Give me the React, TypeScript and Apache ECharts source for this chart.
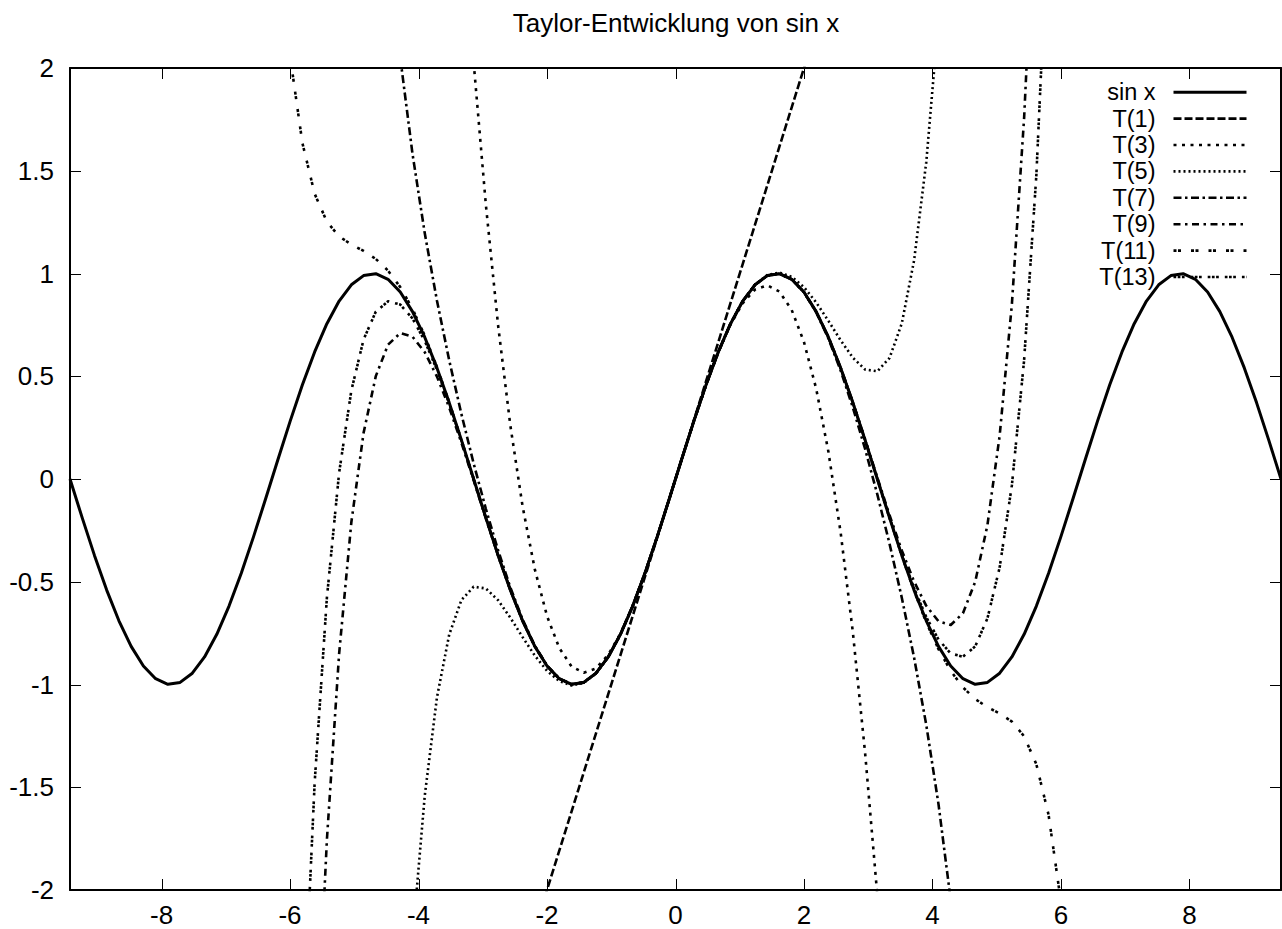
import { useEffect, useRef } from "react";
import * as echarts from "echarts";

// sample abscissae (100 samples over [-3π, 3π])
const xValues = [
  -9.4248, -9.2344, -9.044, -8.8536, -8.6632, -8.4728, -8.2824, -8.092, -7.9016, -7.7112,
  -7.5208, -7.3304, -7.14, -6.9496, -6.7592, -6.5688, -6.3784, -6.188, -5.9976, -5.8072,
  -5.6168, -5.4264, -5.236, -5.0456, -4.8552, -4.6648, -4.4744, -4.284, -4.0936, -3.9032,
  -3.7128, -3.5224, -3.332, -3.1416, -2.9512, -2.7608, -2.5704, -2.38, -2.1896, -1.9992,
  -1.8088, -1.6184, -1.428, -1.2376, -1.0472, -0.8568, -0.6664, -0.476, -0.2856, -0.0952,
  0.0952, 0.2856, 0.476, 0.6664, 0.8568, 1.0472, 1.2376, 1.428, 1.6184, 1.8088,
  1.9992, 2.1896, 2.38, 2.5704, 2.7608, 2.9512, 3.1416, 3.332, 3.5224, 3.7128,
  3.9032, 4.0936, 4.284, 4.4744, 4.6648, 4.8552, 5.0456, 5.236, 5.4264, 5.6168,
  5.8072, 5.9976, 6.188, 6.3784, 6.5688, 6.7592, 6.9496, 7.14, 7.3304, 7.5208,
  7.7112, 7.9016, 8.092, 8.2824, 8.4728, 8.6632, 8.8536, 9.044, 9.2344, 9.4248,
];

const sinValues = [
  0,
  -0.1893, -0.3717, -0.5406, -0.6901, -0.8146, -0.9096, -0.9718, -0.9989, -0.9898, -0.945, -0.866,
  -0.7557, -0.6182, -0.4582, -0.2817, -0.0951, 0.0951, 0.2817, 0.4582, 0.6182, 0.7558, 0.866,
  0.945, 0.9898, 0.9989, 0.9718, 0.9096, 0.8146, 0.6901, 0.5406, 0.3717, 0.1893,
  0,
  -0.1893, -0.3717, -0.5406, -0.6901, -0.8146, -0.9096, -0.9718, -0.9989, -0.9898, -0.945, -0.866,
  -0.7557, -0.6182, -0.4582, -0.2817, -0.0951, 0.0951, 0.2817, 0.4582, 0.6182, 0.7558, 0.866,
  0.945, 0.9898, 0.9989, 0.9718, 0.9096, 0.8146, 0.6901, 0.5406, 0.3717, 0.1893,
  0,
  -0.1893, -0.3717, -0.5406, -0.6901, -0.8146, -0.9096, -0.9718, -0.9989, -0.9898, -0.945, -0.866,
  -0.7557, -0.6182, -0.4582, -0.2817, -0.0951, 0.0951, 0.2817, 0.4582, 0.6182, 0.7558, 0.866,
  0.945, 0.9898, 0.9989, 0.9718, 0.9096, 0.8146, 0.6901, 0.5406, 0.3717, 0.1893,
  0,
];

const t1Start = 38;
const t1Values = [
  -2.1896, -1.9992, -1.8088, -1.6184, -1.428, -1.2376, -1.0472, -0.8568, -0.6664, -0.476, -0.2856, -0.0952,
  0.0952, 0.2856, 0.476, 0.6664, 0.8568, 1.0472, 1.2376, 1.428, 1.6184, 1.8088, 1.9992, 2.1896,
];

const t3Start = 33;
const t3Values = [
  2.0261, 1.3327, 0.7463, 0.26, -0.1331, -0.44, -0.6675, -0.8225, -0.9119, -0.9427, -0.9217, -0.8558,
  -0.752, -0.6171, -0.458, -0.2817, -0.0951,
  0.0951, 0.2817, 0.458, 0.6171, 0.752, 0.8558, 0.9217, 0.9427, 0.9119, 0.8225, 0.6675, 0.44, 0.1331,
  -0.26, -0.7463, -1.3327, -2.0261,
];

const t5Start = 28;
const t5Values = [
  -2.24, -1.5419, -1.062, -0.7572, -0.5891, -0.524, -0.5328, -0.5902, -0.675, -0.7695, -0.8594,
  -0.9336, -0.9838, -1.0044, -0.9922, -0.9459, -0.8663, -0.7558, -0.6182, -0.4582, -0.2817, -0.0951,
  0.0951, 0.2817, 0.4582, 0.6182, 0.7558, 0.8663, 0.9459, 0.9922, 1.0044, 0.9838, 0.9336,
  0.8594, 0.7695, 0.675, 0.5902, 0.5328, 0.524, 0.5891, 0.7572, 1.062, 1.5419, 2.24,
];

const t7Start = 27;
const t7Values = [
  2.0496, 1.5821, 1.1966, 0.8676, 0.5777, 0.3156, 0.0752, -0.146, -0.3477, -0.5279, -0.6837, -0.8115,
  -0.9083, -0.9713, -0.9987, -0.9898, -0.945, -0.866, -0.7557, -0.6182, -0.4582, -0.2817, -0.0951,
  0.0951, 0.2817, 0.4582, 0.6182, 0.7557, 0.866, 0.945, 0.9898, 0.9987, 0.9713, 0.9083, 0.8115,
  0.6837, 0.5279, 0.3477, 0.146, -0.0752, -0.3156, -0.5777, -0.8676, -1.1966, -1.5821, -2.0496,
];

const t9Start = 20;
const t9Values = [
  -3.0095, -1.7572, -0.8508, -0.2105, 0.2245, 0.5006, 0.6535, 0.7103, 0.6925, 0.6171, 0.4982, 0.3477,
  0.1761, -0.0069, -0.1928, -0.3734, -0.5414, -0.6904, -0.8147, -0.9097, -0.9718, -0.9989, -0.9898,
  -0.945, -0.866, -0.7558, -0.6182, -0.4582, -0.2817, -0.0951,
  0.0951, 0.2817, 0.4582, 0.6182, 0.7558, 0.866, 0.945, 0.9898, 0.9989, 0.9718, 0.9097, 0.8147,
  0.6904, 0.5414, 0.3734, 0.1928, 0.0069, -0.1761, -0.3477, -0.4982, -0.6171, -0.6925, -0.7103,
  -0.6535, -0.5006, -0.2245, 0.2105, 0.8508, 1.7572, 3.0095,
];

const t11Start = 18;
const t11Values = [
  2.0535, 1.6345, 1.3881, 1.252, 1.1808, 1.1412, 1.1098, 1.0708, 1.014, 0.9338, 0.828, 0.6974,
  0.5445, 0.3736, 0.1902, 0.0004, -0.1891, -0.3716, -0.5406, -0.6901, -0.8146, -0.9096, -0.9718,
  -0.9989, -0.9898, -0.945, -0.866, -0.7558, -0.6182, -0.4582, -0.2817, -0.0951,
  0.0951, 0.2817, 0.4582, 0.6182, 0.7558, 0.866, 0.945, 0.9898, 0.9989, 0.9718, 0.9096, 0.8146,
  0.6901, 0.5406, 0.3716, 0.1891, -0.0004, -0.1902, -0.3736, -0.5445, -0.6974, -0.828, -0.9338,
  -1.014, -1.0708, -1.1098, -1.1412, -1.1808, -1.252, -1.3881, -1.6345, -2.0535,
];

const t13Start = 19;
const t13Values = [
  -2.7867, -1.4783, -0.5787, 0.0301, 0.4302, 0.6786, 0.8144, 0.8649, 0.849, 0.7811, 0.6721, 0.5313,
  0.367, 0.187, -0.0011, -0.1897, -0.3719, -0.5407, -0.6901, -0.8146, -0.9096, -0.9718, -0.9989,
  -0.9898, -0.945, -0.866, -0.7558, -0.6182, -0.4582, -0.2817, -0.0951,
  0.0951, 0.2817, 0.4582, 0.6182, 0.7558, 0.866, 0.945, 0.9898, 0.9989, 0.9718, 0.9096, 0.8146,
  0.6901, 0.5407, 0.3719, 0.1897, 0.0011, -0.187, -0.367, -0.5313, -0.6721, -0.7811, -0.849,
  -0.8649, -0.8144, -0.6786, -0.4302, -0.0301, 0.5787, 1.4783, 2.7867,
];

const xTickValues = [-8, -6, -4, -2, 0, 2, 4, 6, 8];
const yTickValues = [-2, -1.5, -1, -0.5, 0, 0.5, 1, 1.5, 2];
const xMin = -9.4248;
const xMax = 9.4248;
const yMin = -2;
const yMax = 2;
const yStep = 0.5;

const titleText = "Taylor-Entwicklung von sin x";
const seriesNames = ["sin x", "T(1)", "T(3)", "T(5)", "T(7)", "T(9)", "T(11)", "T(13)"];

function toPairs(start: number, values: number[]) {
  return values.map((y, k) => [xValues[start + k], y]);
}

export default function App() {
  const ref = useRef<HTMLDivElement>(null);

  useEffect(() => {
    if (!ref.current) return;
    const chart = echarts.init(ref.current, null, { renderer: "svg" });
    const font = "'Liberation Sans', Arial, Helvetica, sans-serif";
    const TICK = 11;

    const mk = (name: string, data: number[][], width: number, dash: any) => ({
      type: "line",
      name,
      data,
      symbol: "none",
      showSymbol: false,
      smooth: false,
      clip: true,
      silent: true,
      xAxisIndex: 0,
      yAxisIndex: 0,
      lineStyle: { color: "#000", width, type: dash, cap: "butt", join: "round" },
      emphasis: { disabled: true },
    });

    const tickStyle = { stroke: "#000", lineWidth: 1 };
    const snap = (v: number) => Math.round(v) + 0.5;

    // inward ticks on bottom and top borders, placed by the x scale
    const xTickSeries = {
      type: "custom",
      name: "xTicks",
      silent: true,
      clip: false,
      xAxisIndex: 0,
      yAxisIndex: 0,
      data: xTickValues.map((v) => [v, 0]),
      renderItem: (_p: any, api: any) => {
        const v = api.value(0);
        const b = api.coord([v, yMin]);
        const t = api.coord([v, yMax]);
        const x = snap(b[0]);
        return {
          type: "group",
          children: [
            { type: "line", shape: { x1: x, y1: b[1], x2: x, y2: b[1] - TICK }, style: tickStyle },
            { type: "line", shape: { x1: x, y1: t[1], x2: x, y2: t[1] + TICK }, style: tickStyle },
          ],
        };
      },
    };

    // inward ticks on left and right borders, placed by the y scale
    const yTickSeries = {
      type: "custom",
      name: "yTicks",
      silent: true,
      clip: false,
      xAxisIndex: 0,
      yAxisIndex: 0,
      data: yTickValues.map((v) => [0, v]),
      renderItem: (_p: any, api: any) => {
        const v = api.value(1);
        const l = api.coord([xMin, v]);
        const r = api.coord([xMax, v]);
        const y = snap(l[1]);
        return {
          type: "group",
          children: [
            { type: "line", shape: { x1: l[0], y1: y, x2: l[0] + TICK, y2: y }, style: tickStyle },
            { type: "line", shape: { x1: r[0], y1: y, x2: r[0] - TICK, y2: y }, style: tickStyle },
          ],
        };
      },
    };

    const axisLine = { show: true, onZero: false, lineStyle: { color: "#000", width: 2 } };

    chart.setOption({
      animation: false,
      backgroundColor: "#fff",
      title: {
        text: titleText,
        left: 676,
        top: 10,
        textAlign: "center",
        padding: 0,
        textStyle: { fontSize: 26, fontWeight: "normal", color: "#000", fontFamily: font },
      },
      grid: { left: 70, right: 1, top: 68, bottom: 39, containLabel: false },
      legend: {
        orient: "vertical",
        right: 34,
        top: 79,
        padding: 0,
        itemGap: 0,
        itemWidth: 73,
        itemHeight: 14,
        align: "right",
        selectedMode: false,
        itemStyle: { opacity: 0 },
        lineStyle: { width: "inherit" },
        textStyle: {
          fontSize: 23.5,
          color: "#000",
          fontFamily: font,
          lineHeight: 26.4,
          padding: [0, 13, 0, 0],
        },
        data: seriesNames,
      },
      xAxis: [
        {
          type: "value",
          position: "bottom",
          min: xMin,
          max: xMax,
          axisLine,
          axisTick: { show: false, customValues: xTickValues },
          axisLabel: {
            show: true,
            customValues: xTickValues,
            fontSize: 26,
            color: "#000",
            fontFamily: font,
            margin: 12,
          },
          splitLine: { show: false },
        },
        {
          type: "value",
          position: "top",
          min: xMin,
          max: xMax,
          axisLine,
          axisTick: { show: false },
          axisLabel: { show: false },
          splitLine: { show: false },
        },
      ],
      yAxis: [
        {
          type: "value",
          position: "left",
          min: yMin,
          max: yMax,
          interval: yStep,
          axisLine,
          axisTick: { show: false },
          axisLabel: { show: true, fontSize: 26, color: "#000", fontFamily: font, margin: 16 },
          splitLine: { show: false },
        },
        {
          type: "value",
          position: "right",
          min: yMin,
          max: yMax,
          interval: yStep,
          axisLine,
          axisTick: { show: false },
          axisLabel: { show: false },
          splitLine: { show: false },
        },
      ],
      series: [
        xTickSeries,
        yTickSeries,
        mk(seriesNames[0], toPairs(0, sinValues), 3, "solid"),
        mk(seriesNames[1], toPairs(t1Start, t1Values), 2.6, [8, 3]),
        mk(seriesNames[2], toPairs(t3Start, t3Values), 2.6, [3, 5.5]),
        mk(seriesNames[3], toPairs(t5Start, t5Values), 2.6, [2, 3]),
        mk(seriesNames[4], toPairs(t7Start, t7Values), 2.6, [8, 3.5, 2.5, 3.5]),
        mk(seriesNames[5], toPairs(t9Start, t9Values), 2.6, [7, 4.5, 2.5, 4.5]),
        mk(seriesNames[6], toPairs(t11Start, t11Values), 2.6, [3, 1.5, 3, 10]),
        mk(seriesNames[7], toPairs(t13Start, t13Values), 2.6, [2.7, 1.5, 2.7, 1.5, 2.7, 6]),
      ],
    } as any);

    return () => chart.dispose();
  }, []);

  return (
    <div
      ref={ref}
      style={{ position: "absolute", left: 0, top: 0, width: 1282, height: 929, background: "#fff" }}
    />
  );
}
